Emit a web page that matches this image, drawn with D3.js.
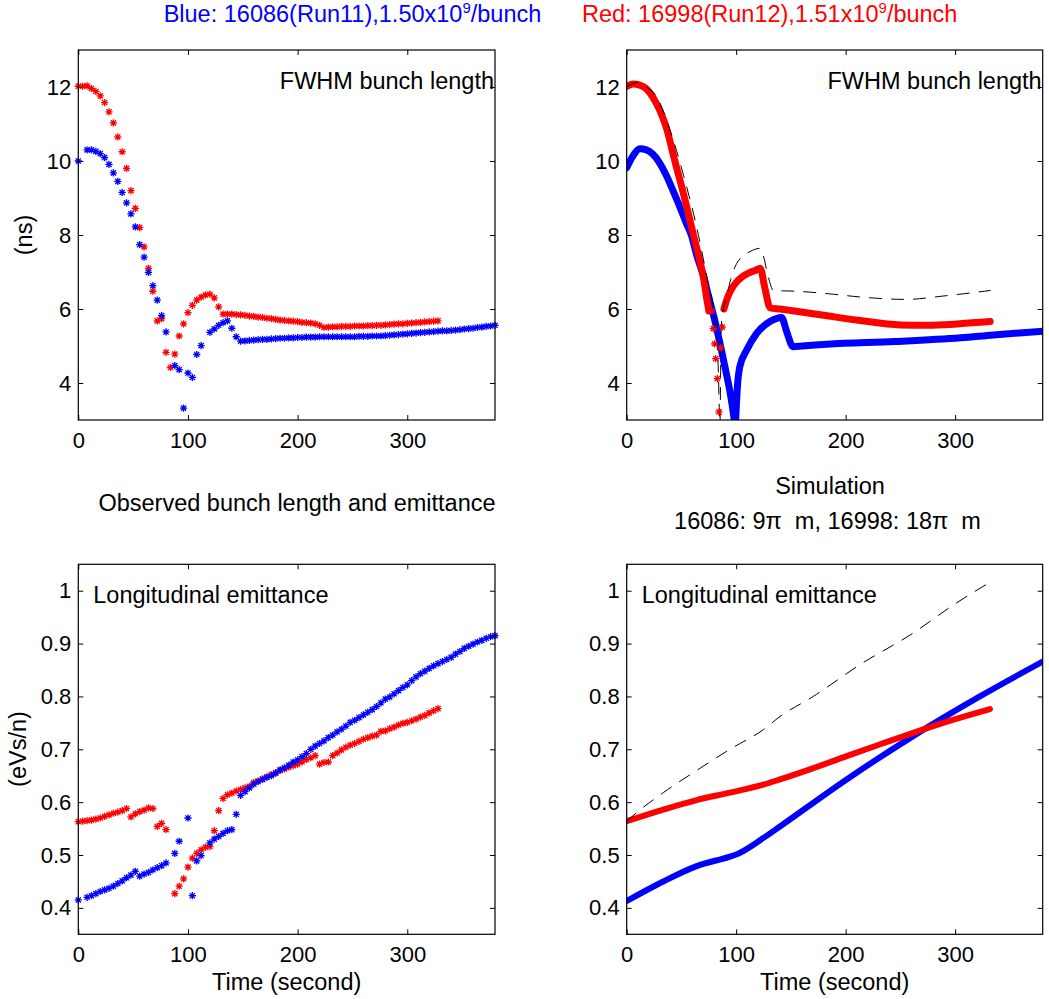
<!DOCTYPE html>
<html>
<head>
<meta charset="utf-8">
<script src="https://cdn.jsdelivr.net/npm/d3@7"></script>
<style>
  body { margin: 0; background: #fff; }
  text { font-family: "Liberation Sans", Arial, Helvetica, sans-serif; }
</style>
</head>
<body>
<div id="chart"></div>
<script>
// ---- data ----
var xTicks = [0, 100, 200, 300];
var lenTicks = [4, 6, 8, 10, 12];
var emitTicks = [0.4, 0.5, 0.6, 0.7, 0.8, 0.9, 1];

// observed, one sample every 4 s
var obsTimeRed = d3.range(0, 329, 4);
var obsTimeBlue = d3.range(0, 381, 4);

var obsRedLen = [12.02,12.02,12.03,11.96,11.88,11.76,11.58,11.33,11.03,10.65,
  10.25,9.80,9.20,8.72,8.20,7.68,7.10,6.48,5.68,5.74,
  4.83,4.42,4.78,5.27,5.60,5.90,6.10,6.24,6.32,6.38,
  6.40,6.30,6.06,5.86,5.86,5.86,5.85,5.84,5.83,5.81,
  5.80,5.78,5.77,5.75,5.74,5.72,5.70,5.69,5.68,5.67,
  5.66,5.64,5.63,5.62,5.60,5.56,5.50,5.51,5.52,5.52,
  5.53,5.53,5.53,5.54,5.54,5.54,5.55,5.55,5.56,5.56,
  5.57,5.58,5.59,5.60,5.60,5.61,5.62,5.63,5.64,5.65,
  5.66,5.67,5.68];

var obsBlueLen = [10.0,null,10.30,10.30,10.26,10.20,10.09,9.91,9.68,9.45,
  9.15,8.87,8.57,8.22,7.74,7.40,6.99,6.63,6.24,5.82,
  5.38,null,4.47,4.36,3.32,4.27,4.15,4.77,5.01,null,
  5.37,5.46,5.56,5.63,5.68,5.48,5.25,5.13,5.14,5.15,
  5.16,5.17,5.18,5.18,5.19,5.20,5.21,5.21,5.22,5.22,
  5.23,5.23,5.24,5.24,5.24,5.25,5.25,5.25,5.25,5.25,
  5.25,5.25,5.25,5.25,5.26,5.26,5.26,5.27,5.27,5.27,
  5.28,5.29,5.30,5.31,5.32,5.33,5.34,5.35,5.36,5.37,
  5.38,5.39,5.40,5.41,5.41,5.42,5.43,5.44,5.46,5.47,
  5.48,5.50,5.51,5.53,5.54,5.56];

var obsRedEm = [0.563,0.564,0.565,0.566,0.568,0.570,0.573,0.576,0.579,0.581,
  0.584,0.588,0.572,0.578,0.582,0.585,0.589,0.588,0.554,0.560,
  0.548,null,0.427,0.441,0.455,0.477,0.494,0.503,0.510,0.515,
  0.516,0.546,0.584,0.607,0.614,0.617,0.621,0.624,0.627,0.630,
  0.637,0.640,0.644,0.648,0.652,0.656,0.660,0.663,0.666,0.669,
  0.672,0.676,0.681,0.684,0.688,0.672,0.675,0.676,0.688,0.693,
  0.699,0.704,0.708,0.711,0.715,0.719,0.722,0.725,0.727,0.734,
  0.735,0.739,0.742,0.746,0.749,0.751,0.754,0.757,0.761,0.764,
  0.769,0.773,0.777];

var obsBlueEm = [0.415,null,0.420,0.423,0.427,0.431,0.434,0.437,0.441,0.446,
  0.451,0.457,0.462,0.469,0.460,0.464,0.467,0.472,0.476,0.480,
  0.485,null,0.503,0.526,null,0.570,0.423,0.489,0.499,null,
  0.523,0.530,0.535,0.541,0.546,0.548,0.577,0.613,0.620,0.627,
  0.634,0.639,0.643,0.647,0.650,0.655,0.661,0.665,0.670,0.676,
  0.680,0.686,0.692,0.700,0.706,0.711,0.716,0.722,0.727,0.733,
  0.738,0.744,0.751,0.755,0.760,0.765,0.770,0.775,0.781,0.788,
  0.795,0.799,0.805,0.811,0.817,0.822,0.830,0.837,0.843,0.848,
  0.853,0.858,0.862,0.866,0.870,0.874,0.880,0.885,0.891,0.895,
  0.899,0.903,0.906,0.910,0.913,0.915];

// simulation, bunch length
var simRedLenT = [0, 6, 12, 18, 24, 30, 36, 44, 52, 61, 66, 70, 73, 75];
var simRedLen  = [12.02, 12.08, 12.05, 11.95, 11.72, 11.38, 10.92, 10.0, 9.1, 8.0, 7.4, 6.87, 6.3, 5.95];
var simRedDipT = [77.5, 79.1, 80.3, 81.3, 82.8, 84.3, 85.8, 87.3];
var simRedDip  = [5.95, 5.47, 5.06, 4.66, 4.12, 3.22, 4.95, 5.51];
var simRedLen2T = [88.8, 92, 95, 100, 105, 112, 118, 122, 126, 131, 140, 150, 180, 213, 250, 274, 304, 332];
var simRedLen2  = [6.0, 6.3, 6.5, 6.72, 6.86, 6.98, 7.05, 7.1, 6.6, 6.03, 6.0, 5.96, 5.83, 5.69, 5.57, 5.56, 5.6, 5.66];
var simBlueLenT = [0, 6, 12, 18, 24, 30, 36, 42, 48, 54, 59, 64, 70, 76, 80, 85, 90, 95, 98, 99,
  100, 101, 103.3, 109.6, 118.7, 130.9, 141.5, 146, 152, 160, 183, 245, 305, 335, 380];
var simBlueLen  = [9.82, 10.15, 10.33, 10.3, 10.18, 9.95, 9.62, 9.22, 8.8, 8.35, 8.0, 7.45, 6.9, 6.2, 5.75, 5.1, 4.4, 3.65, 3.05, 2.8,
  3.3, 3.85, 4.44, 4.89, 5.34, 5.66, 5.77, 5.4, 4.98, 5.0, 5.05, 5.12, 5.22, 5.3, 5.4];
var simLenDashT = [0, 10, 18, 27, 40, 52, 64, 73, 80, 83.5, 85.2, 86.3, 88, 91.3, 95, 100.5, 112.6, 121.7, 124.7, 129.3, 134, 155, 185, 215, 255, 292, 332];
var simLenDash  = [12.0, 12.13, 12.0, 11.75, 10.8, 9.6, 8.2, 6.9, 5.8, 4.5, 2.9, 5.5, 5.95, 6.33, 6.8, 7.23, 7.55, 7.64, 7.45, 6.87, 6.5, 6.48, 6.41, 6.32, 6.26, 6.36, 6.5];

// simulation, emittance
var simRedEmT = [0, 33.4, 63.9, 94.3, 124.7, 140, 170, 200.9, 231, 261.7, 297, 331.8];
var simRedEm  = [0.564, 0.586, 0.604, 0.618, 0.633, 0.643, 0.664, 0.687, 0.709, 0.731, 0.755, 0.776];
var simBlueEmT = [0, 33.4, 63.9, 94.3, 100, 124.7, 140, 200.9, 261.7, 322.6, 380];
var simBlueEm  = [0.413, 0.450, 0.479, 0.497, 0.501, 0.532, 0.554, 0.643, 0.725, 0.800, 0.866];
var simEmDashT = [0, 9, 33.4, 63.9, 94.3, 124.7, 140, 170.4, 213, 261.7, 299.8, 331.8];
var simEmDash  = [0.564, 0.580, 0.618, 0.660, 0.700, 0.737, 0.762, 0.800, 0.860, 0.920, 0.975, 1.016];

// ---- drawing ----
var BLUE = "#0000ff", RED = "#ff0000";
var svg = d3.select("#chart").append("svg").attr("width", 1049).attr("height", 999);

var cols = { left: [78.3, 495], right: [626.7, 1042.7] };
var rows = { top: [50, 420], bottom: [564.3, 934.3] };
var clipCount = 0;

function makePanel(col, row, yDomain, yTicks) {
    var x = d3.scaleLinear().domain([0, 380]).range(col);
    var y = d3.scaleLinear().domain(yDomain).range([row[1], row[0]]);
    var g = svg.append("g");
    var id = "clip" + (clipCount++);
    g.append("clipPath").attr("id", id).append("rect")
        .attr("x", col[0]).attr("y", row[0])
        .attr("width", col[1] - col[0]).attr("height", row[1] - row[0]);

    var fmt = function(d) { return String(d); };
    var axes = [
        [d3.axisBottom(x).tickValues(xTicks).tickFormat(fmt).tickPadding(12), "translate(0," + row[1] + ")"],
        [d3.axisTop(x).tickValues(xTicks).tickFormat(""), "translate(0," + row[0] + ")"],
        [d3.axisLeft(y).tickValues(yTicks).tickFormat(fmt).tickPadding(7), "translate(" + col[0] + ",0)"],
        [d3.axisRight(y).tickValues(yTicks).tickFormat(""), "translate(" + col[1] + ",0)"]
    ];
    axes.forEach(function(a) {
        var ag = g.append("g").attr("transform", a[1])
            .call(a[0].tickSizeInner(-5).tickSizeOuter(0));
        ag.select(".domain").remove();
        ag.attr("font-size", null).attr("font-family", null);
        ag.selectAll("line").attr("stroke", "#000").attr("stroke-width", 1);
        ag.selectAll("text").attr("fill", "#000").style("font-size", "22px");
    });

    var layer = g.append("g").attr("clip-path", "url(#" + id + ")");
    var marks = g.append("g");
    g.append("rect").attr("x", col[0]).attr("y", row[0])
        .attr("width", col[1] - col[0]).attr("height", row[1] - row[0])
        .attr("fill", "none").attr("stroke", "#000").attr("stroke-width", 1.2);
    return { x: x, y: y, layer: layer, marks: marks };
}

var STAR = "M-3.6,0H3.6M0,-3.6V3.6M-2.6,-2.6L2.6,2.6M-2.6,2.6L2.6,-2.6";

function drawStars(p, times, values, color) {
    var pts = times.map(function(t, i) { return [t, values[i]]; })
        .filter(function(d) { return d[1] != null; });
    p.marks.selectAll(null).data(pts).enter().append("path")
        .attr("d", STAR)
        .attr("transform", function(d) { return "translate(" + p.x(d[0]) + "," + p.y(d[1]) + ")"; })
        .attr("fill", "none").attr("stroke", color).attr("stroke-width", 1.3);
}

function drawLine(p, times, values, color, width, dash) {
    var pts = times.map(function(t, i) { return [t, values[i]]; });
    var line = d3.line()
        .x(function(d) { return p.x(d[0]); })
        .y(function(d) { return p.y(d[1]); })
        .curve(d3.curveMonotoneX);
    var path = p.layer.append("path").datum(pts)
        .attr("d", line)
        .attr("fill", "none")
        .attr("stroke", color)
        .attr("stroke-width", width)
        .attr("stroke-linejoin", "round")
        .attr("stroke-linecap", "round");
    if (dash) path.attr("stroke-dasharray", dash);
}

function label(x, y, txt, anchor, size, color) {
    return svg.append("text").attr("x", x).attr("y", y)
        .attr("text-anchor", anchor || "start")
        .style("font-size", (size || 23.5) + "px")
        .style("white-space", "pre")
        .attr("fill", color || "#000")
        .text(txt);
}

// top-left: observed bunch length
var pTL = makePanel(cols.left, rows.top, [3, 13], lenTicks);
drawStars(pTL, obsTimeRed, obsRedLen, RED);
drawStars(pTL, obsTimeBlue, obsBlueLen, BLUE);

// top-right: simulated bunch length
var pTR = makePanel(cols.right, rows.top, [3, 13], lenTicks);
drawLine(pTR, simBlueLenT, simBlueLen, BLUE, 7);
drawLine(pTR, simRedLenT, simRedLen, RED, 7);
drawLine(pTR, simRedLen2T, simRedLen2, RED, 7);
drawStars(pTR, simRedDipT, simRedDip, RED);
drawLine(pTR, simLenDashT, simLenDash, "#000", 1, "12,10");

// bottom-left: observed emittance
var pBL = makePanel(cols.left, rows.bottom, [0.35, 1.05], emitTicks);
drawStars(pBL, obsTimeRed, obsRedEm, RED);
drawStars(pBL, obsTimeBlue, obsBlueEm, BLUE);

// bottom-right: simulated emittance
var pBR = makePanel(cols.right, rows.bottom, [0.35, 1.05], emitTicks);
drawLine(pBR, simBlueEmT, simBlueEm, BLUE, 6);
drawLine(pBR, simRedEmT, simRedEm, RED, 6);
drawLine(pBR, simEmDashT, simEmDash, "#000", 1, "12,10");

// titles and labels
function supTitle(cx, pre, post, color) {
    var t = label(cx, 22, "", "middle", 23.5, color);
    t.append("tspan").text(pre);
    t.append("tspan").attr("dy", -9).style("font-size", "15px").text("9");
    t.append("tspan").attr("dy", 9).text(post);
}
supTitle(352.5, "Blue: 16086(Run11),1.50x10", "/bunch", BLUE);
supTitle(769.7, "Red: 16998(Run12),1.51x10", "/bunch", RED);

label(494, 89, "FWHM bunch length", "end");
label(1041.7, 89, "FWHM bunch length", "end");
label(93.3, 603, "Longitudinal emittance");
label(641.7, 603, "Longitudinal emittance");
label(297, 511, "Observed bunch length and emittance", "middle");
label(830, 494, "Simulation", "middle");
label(827.5, 529, "16086: 9\u03c0  m, 16998: 18\u03c0  m", "middle");
label(286.7, 990, "Time (second)", "middle");
label(834.7, 990, "Time (second)", "middle");
label(0, 0, "(ns)", "middle").attr("transform", "translate(32,235) rotate(-90)");
label(0, 0, "(eVs/n)", "middle").attr("transform", "translate(26,749) rotate(-90)");
</script>
</body>
</html>
